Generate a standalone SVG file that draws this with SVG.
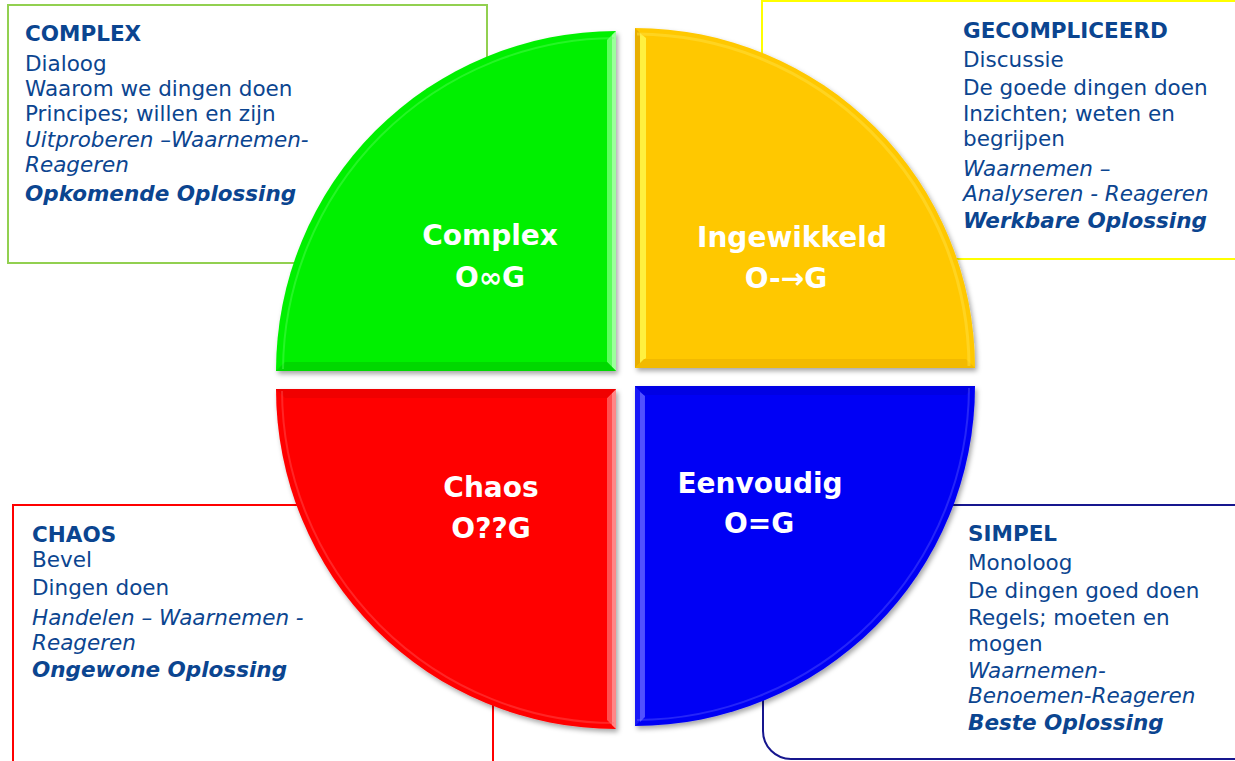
<svg xmlns="http://www.w3.org/2000/svg" width="1235" height="761" viewBox="0 0 1235 761">
<defs>
<filter id="shadow" x="-10%" y="-10%" width="125%" height="125%">
<feDropShadow dx="2" dy="3" stdDeviation="2.5" flood-color="#000" flood-opacity="0.35"/>
</filter>
<style>
.t{font-family:"DejaVu Sans","Verdana",sans-serif;font-size:21.5px;fill:#0B4590}
.b{font-weight:bold}
.i{font-style:italic}
.q{font-family:"DejaVu Sans","Verdana",sans-serif;font-size:28px;font-weight:bold;fill:#fff;text-anchor:middle}
.box{fill:#fff;stroke-width:2}
</style>
</defs>
<rect width="1235" height="761" fill="#fff"/>

<g id="box-complex">
<rect class="box" x="8" y="5" width="479" height="258" stroke="#92D050"/>
<text class="t b" x="25" y="41">COMPLEX</text>
<text class="t" x="25" y="71">Dialoog</text>
<text class="t" x="25" y="96">Waarom we dingen doen</text>
<text class="t" x="25" y="121">Principes; willen en zijn</text>
<text class="t i" x="25" y="147">Uitproberen –Waarnemen-</text>
<text class="t i" x="25" y="172">Reageren</text>
<text class="t b i" x="25" y="201">Opkomende Oplossing</text>
</g>

<g id="box-gecompliceerd">
<rect class="box" x="762" y="1" width="480" height="258" stroke="#FFFF00"/>
<text class="t b" x="963" y="38">GECOMPLICEERD</text>
<text class="t" x="963" y="67">Discussie</text>
<text class="t" x="963" y="95">De goede dingen doen</text>
<text class="t" x="963" y="121">Inzichten; weten en</text>
<text class="t" x="963" y="146">begrijpen</text>
<text class="t i" x="963" y="176">Waarnemen –</text>
<text class="t i" x="963" y="201">Analyseren - Reageren</text>
<text class="t b i" x="963" y="228">Werkbare Oplossing</text>
</g>

<g id="box-chaos">
<rect class="box" x="13" y="505" width="480" height="270" stroke="#FF0000"/>
<text class="t b" x="32" y="542">CHAOS</text>
<text class="t" x="32" y="567">Bevel</text>
<text class="t" x="32" y="595">Dingen doen</text>
<text class="t i" x="32" y="625">Handelen – Waarnemen -</text>
<text class="t i" x="32" y="650">Reageren</text>
<text class="t b i" x="32" y="677">Ongewone Oplossing</text>
</g>

<g id="box-simpel">
<rect class="box" x="763" y="505" width="500" height="254" rx="28" ry="28" stroke="#16168E"/>
<text class="t b" x="968" y="541">SIMPEL</text>
<text class="t" x="968" y="570">Monoloog</text>
<text class="t" x="968" y="598">De dingen goed doen</text>
<text class="t" x="968" y="625">Regels; moeten en</text>
<text class="t" x="968" y="651">mogen</text>
<text class="t i" x="968" y="678">Waarnemen-</text>
<text class="t i" x="968" y="703">Benoemen-Reageren</text>
<text class="t b i" x="968" y="730">Beste Oplossing</text>
</g>

<g id="quadrant-complex">
<path d="M616,371 L276,371 A340,340 0 0 1 616,31 Z" fill="#00F000" filter="url(#shadow)"/>
<path d="M616,31 L616,371 L607,362 L607,40 Z" fill="#5CFF5C"/>
<path d="M616,31 L616,371 L612,367 L612,35 Z" fill="#B8FFB8" opacity="0.7"/>
<path d="M276,371 L616,371 L607,362 L285,362 Z" fill="#00D800"/>
<path d="M283,369 A334,334 0 0 1 614,38" fill="none" stroke="#6CFF6C" stroke-width="2" opacity="0.35"/>
<text class="q" x="490" y="245">Complex</text>
<text class="q" x="490" y="287">O∞G</text>
</g>

<g id="quadrant-ingewikkeld">
<path d="M635,368 L635,28 A340,340 0 0 1 975,368 Z" fill="#FFC800" filter="url(#shadow)"/>
<path d="M635,28 L635,368 L644,359 L644,37 Z" fill="#E8AE00"/>
<path d="M640,33 L640,364 L646,358 L646,38 Z" fill="#FFF040"/>
<path d="M635,368 L975,368 L966,359 L644,359 Z" fill="#F2BA00"/>
<path d="M637,34 A334,334 0 0 1 969,366" fill="none" stroke="#FFE040" stroke-width="3" opacity="0.5"/>
<text class="q" x="792" y="247">Ingewikkeld</text>
<text class="q" x="786" y="288">O-→G</text>
</g>

<g id="quadrant-chaos">
<path d="M616,389 L616,729 A340,340 0 0 1 276,389 Z" fill="#FF0000" filter="url(#shadow)"/>
<path d="M616,389 L616,729 L607,720 L607,398 Z" fill="#FF5050"/>
<path d="M616,389 L616,729 L612,725 L612,393 Z" fill="#FFA0A0" opacity="0.7"/>
<path d="M276,389 L616,389 L607,398 L285,398 Z" fill="#F00000"/>
<path d="M614,723 A334,334 0 0 1 282,391" fill="none" stroke="#FF6A6A" stroke-width="2" opacity="0.35"/>
<text class="q" x="491" y="497">Chaos</text>
<text class="q" x="491" y="538">O??G</text>
</g>

<g id="quadrant-eenvoudig">
<path d="M635,386 L975,386 A340,340 0 0 1 635,726 Z" fill="#0000F5" filter="url(#shadow)"/>
<path d="M635,386 L635,726 L644,717 L644,395 Z" fill="#1818F8"/>
<path d="M640,392 L640,722 L645,717 L645,396 Z" fill="#6060FF" opacity="0.8"/>
<path d="M635,386 L975,386 L966,395 L644,395 Z" fill="#0000E4"/>
<path d="M969,388 A334,334 0 0 1 637,720" fill="none" stroke="#6A6AFF" stroke-width="2" opacity="0.35"/>
<text class="q" x="760" y="493">Eenvoudig</text>
<text class="q" x="759" y="533">O=G</text>
</g>
</svg>
